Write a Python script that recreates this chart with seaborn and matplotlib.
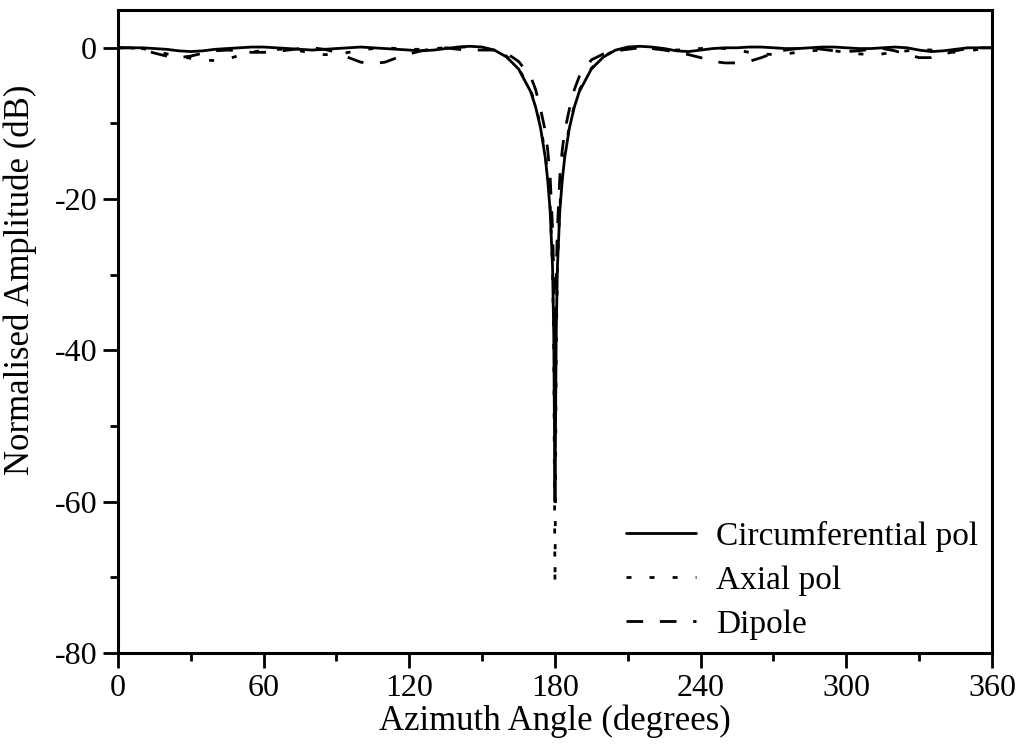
#!/usr/bin/env python3
"""
plot.py
Normalised azimuth pattern for circumferential / axial polarisation and dipole.
"""
import numpy as np
import pandas as pd
import matplotlib
matplotlib.use("Agg")
import matplotlib.pyplot as plt
from matplotlib.ticker import MultipleLocator
import seaborn as sns

# Angles (degrees) -- coarse on the flat parts, dense around the null at 180
angle_left = [0, 5, 10, 15, 20, 25, 30, 35, 40, 45, 50, 55, 60, 65, 70, 75,
              80, 85, 90, 95, 100, 105, 110, 115, 120, 125, 130, 135, 140, 145, 150]
angle_dip = [155, 160, 165, 170, 172, 174, 176, 177, 178, 179, 179.5, 180,
             180.5, 181, 182, 183, 184, 186, 188, 190, 195, 200, 205]
angle_right = [210, 215, 220, 225, 230, 235, 240, 245, 250, 255, 260, 265, 270,
               275, 280, 285, 290, 295, 300, 305, 310, 315, 320, 325, 330, 335,
               340, 345, 350, 355, 360]
angles = angle_left + angle_dip + angle_right

# Normalised amplitude (dB)
circ_pol = [0, 0, 0, -0.1, -0.2, -0.4, -0.5, -0.4, -0.2, -0.1, 0, 0.1, 0.1, 0, -0.1, -0.2,
            -0.3, -0.2, -0.1, 0, 0.1, 0, -0.1, -0.2, -0.3, -0.4, -0.3, -0.1, 0.1, 0.2, 0.1,
            -0.3, -1.2, -2.8, -5.8, -7.8, -10.5, -14.5, -17.5, -21.5, -29, -38, -60,
            -38, -29, -21.5, -17.5, -14.5, -10.5, -7.8, -5.8, -2.8, -1.2, -0.3,
            0.1, 0.2, 0.1, -0.1, -0.4, -0.5, -0.3, -0.1, 0, 0, 0.1, 0.1, 0,
            -0.1, -0.1, 0, 0.1, 0.1, 0, -0.1, -0.1, 0, 0.1, 0, -0.3, -0.5,
            -0.4, -0.2, 0, 0, 0]
axial_pol = [0, 0, -0.1, -0.4, -0.8, -1.1, -1.4, -1.6, -1.7, -1.5, -1.0, -0.6, -0.3, -0.2, -0.2, -0.4,
             -0.7, -0.9, -0.9, -0.6, -0.3, -0.1, 0, -0.1, -0.2, -0.2, -0.1, 0, 0.1, 0.1, 0,
             -0.3, -1.1, -2.7, -5.6, -7.6, -10.2, -14, -17, -21, -29, -40, -71,
             -40, -29, -21, -17, -14, -10.2, -7.6, -5.6, -2.7, -1.1, -0.3,
             0, 0, -0.1, -0.2, -0.3, -0.2, -0.1, 0, -0.1, -0.3, -0.6, -0.8, -0.9,
             -0.8, -0.6, -0.4, -0.3, -0.4, -0.6, -0.8, -0.9, -0.8, -0.6, -0.4, -0.2, -0.3,
             -0.5, -0.6, -0.4, -0.2, 0]
dipole = [0, 0, -0.2, -0.7, -1.1, -1.3, -1.1, -0.7, -0.4, -0.3, -0.4, -0.6, -0.6, -0.5, -0.3, -0.1,
          0, -0.2, -0.6, -1.3, -1.9, -2.1, -1.9, -1.3, -0.8, -0.4, -0.1, 0, -0.2, -0.3, -0.3,
          -0.3, -0.7, -1.8, -3.8, -5.5, -8, -11, -13.5, -17, -24, -30, -40,
          -30, -24, -17, -13.5, -11, -8, -5.5, -3.8, -1.6, -0.8, -0.4,
          -0.2, 0, -0.1, -0.3, -0.6, -0.9, -1.3, -1.8, -2.0, -2.0, -1.8, -1.3, -0.7,
          -0.3, -0.1, 0, -0.2, -0.4, -0.5, -0.4, -0.2, -0.1, -0.4, -0.9, -1.3, -1.3,
          -0.9, -0.4, -0.1, 0, 0]

series_names = ["Circumferential pol", "Axial pol", "Dipole"]

df = pd.concat([
    pd.DataFrame({"angle": angles, "amp": circ_pol, "series": series_names[0]}),
    pd.DataFrame({"angle": angles, "amp": axial_pol, "series": series_names[1]}),
    pd.DataFrame({"angle": angles, "amp": dipole, "series": series_names[2]}),
], ignore_index=True)

sns.set_style("ticks")
plt.rcParams["font.family"] = ["Liberation Serif", "DejaVu Serif"]
plt.rcParams["axes.unicode_minus"] = False
plt.rcParams["text.color"] = "black"
plt.rcParams["axes.labelcolor"] = "black"
plt.rcParams["xtick.color"] = "black"
plt.rcParams["ytick.color"] = "black"
plt.rcParams["axes.edgecolor"] = "black"

fig = plt.figure(figsize=(10.2, 7.44), dpi=100)
ax = fig.add_axes([0.1157, 0.1223, 0.8568, 0.8643])

dash_map = {series_names[0]: "", series_names[1]: (1.8, 6.5), series_names[2]: (6, 6)}
sns.lineplot(data=df, x="angle", y="amp", style="series", dashes=dash_map,
             color="black", linewidth=2, sort=False, estimator=None, ax=ax)

ax.set_xlim(0, 360)
ax.set_ylim(-80, 5)
ax.xaxis.set_major_locator(MultipleLocator(60))
ax.xaxis.set_minor_locator(MultipleLocator(30))
ax.yaxis.set_major_locator(MultipleLocator(20))
ax.yaxis.set_minor_locator(MultipleLocator(10))
ax.tick_params(which="major", length=11, width=2, labelsize=23, pad=4)
ax.tick_params(which="minor", length=6, width=2)
for s in ax.spines.values():
    s.set_linewidth(2.2)

ax.set_xlabel("Azimuth Angle (degrees)", fontsize=25, labelpad=1)
ax.set_ylabel("Normalised Amplitude (dB)", fontsize=25)
ax.yaxis.set_label_coords(-0.093, 0.58)

ax.legend(loc="lower right", frameon=False, fontsize=24, handlelength=2.1,
          handletextpad=0.6, labelspacing=0.4, borderaxespad=0.0)

fig.savefig("out.png", dpi=100)
